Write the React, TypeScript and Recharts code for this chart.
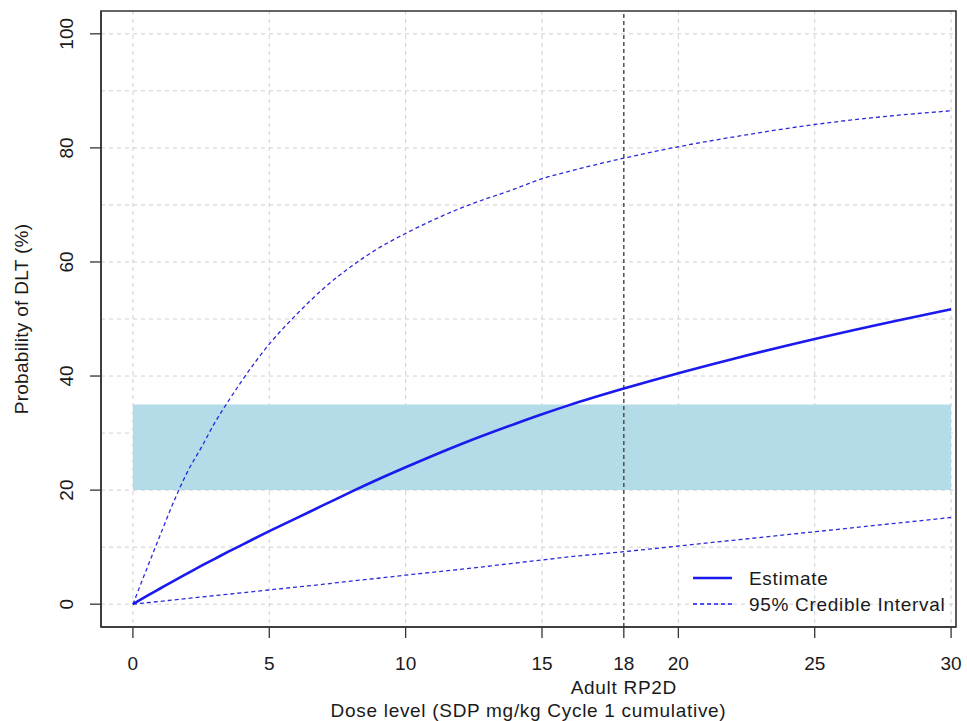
import { LineChart, Line, XAxis, YAxis, CartesianGrid, ReferenceArea, ReferenceLine, Legend, Label } from "recharts";

// dose grid (mg/kg) and the curves (% DLT)
const doses = [0, 0.5, 1, 1.5, 2, 2.5, 3, 3.5, 4, 5, 6, 7, 8, 9, 10, 12, 14, 15, 16, 18, 20, 22, 25, 28, 30];
const estimate = [0, 1.4, 2.75, 4.1, 5.4, 6.7, 7.95, 9.2, 10.4, 12.8, 15.1, 17.4, 19.7, 21.9, 24.0, 28.0, 31.6, 33.3, 34.9, 37.8, 40.5, 43.0, 46.5, 49.7, 51.7];
const upper = [0, 6.1, 12.1, 18.0, 23.2, 27.4, 31.8, 35.6, 39.2, 45.6, 50.8, 55.4, 59.2, 62.4, 65.0, 69.4, 72.8, 74.6, 75.9, 78.2, 80.2, 81.9, 84.1, 85.7, 86.5];
const lower = [0, 0.25, 0.5, 0.75, 1.0, 1.25, 1.5, 1.75, 2.0, 2.5, 3.0, 3.5, 4.05, 4.55, 5.1, 6.1, 7.2, 7.75, 8.3, 9.2, 10.2, 11.2, 12.7, 14.2, 15.2];

const xTicks = [0, 5, 10, 15, 18, 20, 25, 30];
const yTicks = [0, 20, 40, 60, 80, 100];
const xGrid = [0, 5, 10, 15, 20, 25, 30];
const yGrid = [0, 10, 20, 30, 40, 50, 60, 70, 80, 90, 100];
const rp2d = 18;
const targetBand = [20, 35];

const xDomain = [-1.17, 30.18];
const yDomain = [-4, 104];

const data = doses.map((d, i) => ({ dose: d, estimate: estimate[i], upper: upper[i], lower: lower[i] }));

const font = "'Liberation Sans', Arial, Helvetica, sans-serif";
const textColor = "#1a1a1a";
const fontSize = 19;
const wide = 0.7; // the source text is set a little wider than Liberation Sans

function XTick({ x, y, payload }: any) {
  return (
    <g>
      <text x={x} y={y + 25} textAnchor="middle" dominantBaseline="central" fill={textColor} fontSize={fontSize} fontFamily={font}>
        {payload.value}
      </text>
      {payload.value === rp2d && (
        <text x={x} y={y + 49} textAnchor="middle" dominantBaseline="central" fill={textColor} fontSize={fontSize} fontFamily={font} letterSpacing={wide}>
          Adult RP2D
        </text>
      )}
    </g>
  );
}

function YTick({ x, y, payload }: any) {
  const tx = x - 23;
  return (
    <text x={tx} y={y} transform={`rotate(-90, ${tx}, ${y})`} textAnchor="middle" dominantBaseline="central" fill={textColor} fontSize={fontSize} fontFamily={font}>
      {payload.value}
    </text>
  );
}

function LegendBox() {
  const items = [
    { label: "Estimate", width: 2.5, dash: undefined },
    { label: "95% Credible Interval", width: 1.3, dash: "4 3" },
  ];
  return (
    <svg width={275} height={56}>
      {items.map((it, i) => (
        <g key={it.label}>
          <line x1={3} x2={42} y1={15 + i * 26} y2={15 + i * 26} stroke="#1a1aee" strokeWidth={it.width} strokeDasharray={it.dash} />
          <text x={59} y={15 + i * 26} dominantBaseline="central" fill={textColor} fontSize={fontSize} fontFamily={font} letterSpacing={wide}>
            {it.label}
          </text>
        </g>
      ))}
    </svg>
  );
}

export default function App() {
  return (
    <div style={{ position: "absolute", left: 0, top: 0, width: 967, height: 721, background: "#fff" }}>
      <LineChart width={967} height={721} data={data} margin={{ top: 11, right: 11, left: 0, bottom: 0 }}>
        <ReferenceArea x1={0} x2={30} y1={targetBand[0]} y2={targetBand[1]} fill="#ADD8E6" fillOpacity={0.92} stroke="none" />
        <CartesianGrid stroke="#d0d0d0" strokeDasharray="4 4" horizontalValues={yGrid} verticalValues={xGrid} />
        <XAxis
          dataKey="dose"
          type="number"
          domain={xDomain}
          ticks={xTicks}
          interval={0}
          height={94}
          tickSize={11}
          tickMargin={0}
          tick={<XTick />}
          tickLine={{ stroke: "#333", strokeWidth: 1.3 }}
          axisLine={{ stroke: "#333", strokeWidth: 1.5 }}
        >
          <Label
            content={({ viewBox }: any) => (
              <text x={viewBox.x + viewBox.width / 2} y={710} textAnchor="middle" dominantBaseline="central" fill={textColor} fontSize={fontSize} fontFamily={font} letterSpacing={wide}>
                Dose level (SDP mg/kg Cycle 1 cumulative)
              </text>
            )}
          />
        </XAxis>
        <YAxis
          type="number"
          domain={yDomain}
          ticks={yTicks}
          interval={0}
          width={101}
          tickSize={11}
          tickMargin={0}
          tick={<YTick />}
          tickLine={{ stroke: "#333", strokeWidth: 1.3 }}
          axisLine={{ stroke: "#333", strokeWidth: 1.5 }}
        >
          <Label
            content={({ viewBox }: any) => {
              const cx = 21;
              const cy = viewBox.y + viewBox.height / 2;
              return (
                <text x={cx} y={cy} transform={`rotate(-90, ${cx}, ${cy})`} textAnchor="middle" dominantBaseline="central" fill={textColor} fontSize={fontSize} fontFamily={font} letterSpacing={0.3}>
                  Probability of DLT (%)
                </text>
              );
            }}
          />
        </YAxis>
        <ReferenceLine x={rp2d} stroke="#444" strokeWidth={1.4} strokeDasharray="4 3" />
        <ReferenceArea x1={xDomain[0]} x2={xDomain[1]} y1={yDomain[0]} y2={yDomain[1]} fill="none" stroke="#333" strokeWidth={1.6} />
        <Line type="monotone" dataKey="upper" stroke="#2a2add" strokeWidth={1.3} strokeDasharray="4 3" dot={false} isAnimationActive={false} />
        <Line type="monotone" dataKey="lower" stroke="#2a2add" strokeWidth={1.3} strokeDasharray="4 3" dot={false} isAnimationActive={false} />
        <Line type="monotone" dataKey="estimate" stroke="#1a1aee" strokeWidth={2.6} dot={false} isAnimationActive={false} />
        <Legend
          layout="vertical"
          align="center"
          verticalAlign="middle"
          content={() => <LegendBox />}
          wrapperStyle={{ left: 690, top: 563, width: 275, height: 56 }}
        />
      </LineChart>
    </div>
  );
}
